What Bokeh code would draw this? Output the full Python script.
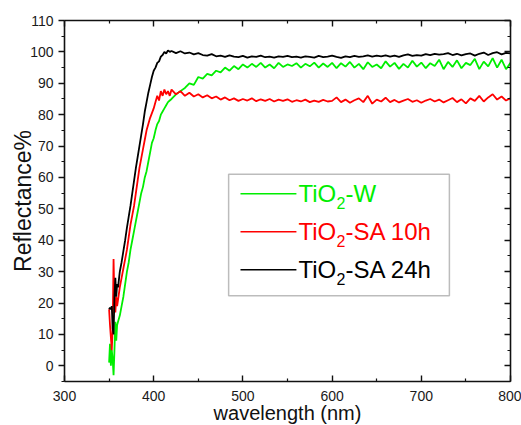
from bokeh.plotting import figure
from bokeh.models import (Range1d, LinearAxis, BoxAnnotation, ColumnDataSource,
                          FixedTicker, CustomJSTickFormatter)
from bokeh.core.properties import value
from bokeh.embed import file_html
from bokeh.resources import INLINE

# ---------------- data ----------------
wl_rise = [350, 351, 352, 353, 354, 355, 356, 357, 358, 359, 360, 362, 364, 366, 368,
           370, 372, 374, 376, 378, 380, 382, 384, 386, 388, 390, 392, 394, 396, 398,
           400, 402, 404, 406, 408, 410, 412, 414, 416, 418, 420]
wl_flat = list(range(425, 801, 5))

black_rise = [18, 18.5, 18, 19, 12, 10, 22, 28, 22, 26, 25, 30, 33, 36.5, 40,
              44, 47.5, 51, 55, 59, 63, 66.5, 70, 73.5, 77, 81, 84, 87, 89.5, 92,
              94, 95, 96.5, 97, 98.5, 99, 100, 99.5, 100.5, 100, 100.3]
black_flat = [99.6, 100.2, 99.5, 99.8, 99.2, 99.6, 99.0, 98.8, 99.3, 98.6,
              98.8, 98.4, 98.9, 98.5, 98.3, 98.7, 98.2, 98.6, 98.4, 98.8,
              98.3, 98.5, 98.2, 98.6, 98.4, 98.7, 98.3, 98.5, 98.2, 98.6,
              98.4, 98.2, 98.7, 98.3, 98.5, 98.8, 98.4, 98.1, 98.6, 98.3,
              98.7, 98.4, 98.6, 98.9, 98.5, 98.8, 98.6, 98.9, 98.5, 98.8,
              98.4, 98.9, 99.2, 98.7, 99.0, 98.8, 99.3, 99.0, 99.4, 99.1,
              99.3, 99.6, 99.0, 99.4, 98.9, 99.3, 99.5, 98.8, 99.4, 99.8,
              99.0, 99.6, 99.9, 99.2, 99.7, 99.5]

red_rise = [18, 13, 9, 5, 12, 34, 20, 17, 22, 19, 21, 25, 28, 31, 34,
            37, 41, 45, 48, 51, 55, 59, 63, 66, 69, 72, 75, 77, 79, 80.5,
            82, 84, 86, 84.5, 87.5, 86, 88, 86.5, 87.5, 86, 88]
red_flat = [86.5, 87.5, 86.0, 87.0, 85.8, 86.5, 85.5, 86.2, 85.2, 85.8,
            84.8, 85.5, 84.6, 85.2, 84.4, 85.0, 84.5, 85.2, 84.3, 84.9,
            84.4, 85.0, 84.2, 84.8, 84.4, 84.9, 84.1, 84.6, 84.2, 84.8,
            84.0, 84.5, 84.1, 84.7, 84.2, 84.4, 85.5, 84.0, 84.8, 83.8,
            84.6, 85.2, 84.0, 86.0, 83.5, 84.8, 84.2, 85.4, 84.0, 84.7,
            83.9, 84.5, 85.0, 84.1, 84.6, 83.8, 84.5, 85.0, 84.2, 84.8,
            83.9, 84.6, 85.3, 84.0, 84.9, 83.6, 85.2, 84.4, 86.0, 84.2,
            85.5, 86.5, 84.8, 85.8, 84.5, 85.2]

green_rise = [1, 7, 0, 5, 2, -3, 5, 14, 8, 13, 14, 16, 19, 22, 26,
              30, 33, 37, 40, 43, 46, 49, 52, 55, 57, 60, 62, 65, 68, 71,
              72.5, 75, 77, 78, 80, 81, 82, 83, 84, 84.5, 85]
green_flat = [86.5, 87.5, 88.5, 90.0, 89.5, 92.0, 91.5, 93.0, 92.5, 94.0,
              93.5, 95.0, 94.0, 95.5, 94.5, 96.0, 95.0, 96.2, 95.2, 96.5,
              95.0, 96.0, 94.8, 96.5, 95.2, 96.0, 95.5, 96.4, 95.0, 96.2,
              95.4, 96.6, 95.0, 96.3, 95.2, 96.5, 94.8, 96.4, 95.3, 96.8,
              95.0, 96.2, 94.5, 96.7, 95.2, 96.0, 94.8, 97.0, 95.3, 96.5,
              94.6, 96.2, 95.0, 97.2, 95.3, 96.6, 94.8, 96.4, 95.5, 97.5,
              94.5, 96.8, 95.2, 97.3, 94.8, 96.5, 95.8, 97.8, 94.5, 96.9,
              95.4, 98.0, 95.0, 97.5, 94.5, 96.5]

wavelength = wl_rise + wl_flat
series_names = ["TiO2-W", "TiO2-SA 10h", "TiO2-SA 24h"]
series_values = [green_rise + green_flat, red_rise + red_flat, black_rise + black_flat]
series_colors = ["#00ee00", "#ff0000", "#000000"]

x_ticks = [300, 400, 500, 600, 700, 800]
x_minor = [350, 450, 550, 650, 750]
y_ticks = [0, 10, 20, 30, 40, 50, 60, 70, 80, 90, 100, 110]
y_minor = [-5, 5, 15, 25, 35, 45, 55, 65, 75, 85, 95, 105]

FONT = "Liberation Sans"

p = figure(frame_width=446, frame_height=361, output_backend="svg", toolbar_location=None,
           x_range=Range1d(300, 800), y_range=Range1d(-5, 110),
           min_border_left=64, min_border_right=11, min_border_top=20, min_border_bottom=44)
p.grid.visible = False
p.outline_line_color = None
p.background_fill_color = "white"
p.border_fill_color = "white"

for vals, col in zip(series_values, series_colors):
    src = ColumnDataSource(dict(x=wavelength, y=vals))
    p.line("x", "y", source=src, line_color=col, line_width=1.8)


def style(ax):
    ax.axis_line_width = 1.6
    ax.axis_line_color = "#111111"
    ax.major_tick_line_color = "#111111"
    ax.minor_tick_line_color = "#111111"
    ax.major_tick_line_width = 1.4
    ax.minor_tick_line_width = 1.2
    ax.major_label_text_font = FONT
    ax.major_label_text_font_size = "14px"
    ax.major_label_text_color = "#1a1a1a"
    ax.axis_label_text_font = FONT
    ax.axis_label_text_font_style = "normal"
    ax.axis_label_text_color = "#111111"


xa = p.xaxis[0]
xa.ticker = FixedTicker(ticks=x_ticks, minor_ticks=x_minor)
style(xa)
xa.major_tick_in = 6
xa.major_tick_out = 0
xa.minor_tick_in = 3
xa.minor_tick_out = 0
xa.major_label_standoff = 9
xa.axis_label = "wavelength (nm)"
xa.axis_label_text_font_size = "20px"
xa.axis_label_standoff = -2

ya = p.yaxis[0]
ya.ticker = FixedTicker(ticks=y_ticks, minor_ticks=y_minor)
style(ya)
ya.major_tick_in = 0
ya.major_tick_out = 6
ya.minor_tick_in = 0
ya.minor_tick_out = 3
ya.major_label_standoff = 5
ya.axis_label = "Reflectance%"
ya.axis_label_text_font_size = "23px"
ya.axis_label_standoff = -9

blank = CustomJSTickFormatter(code="return ''")

top = LinearAxis(ticker=FixedTicker(ticks=x_ticks, minor_ticks=x_minor), formatter=blank)
style(top)
top.major_tick_in = 6
top.major_tick_out = 0
top.minor_tick_in = 3
top.minor_tick_out = 0
top.major_label_standoff = 0
p.add_layout(top, "above")

right = LinearAxis(ticker=FixedTicker(ticks=y_ticks, minor_ticks=y_minor), formatter=blank)
style(right)
right.major_tick_in = 6
right.major_tick_out = 0
right.minor_tick_in = 3
right.minor_tick_out = 0
right.major_label_standoff = 0
p.add_layout(right, "right")

# manual legend (box, line samples, text with subscript)
p.add_layout(BoxAnnotation(left=484, right=731.5, top=61, bottom=22.3,
                           fill_color="white", fill_alpha=1.0,
                           line_color="#222222", line_width=1.5, level="underlay"))
leg_y = [54.8, 42.7, 30.6]
leg_tail = ["-W", "-SA 10h", "-SA 24h"]
for col, yy, tail in zip(series_colors, leg_y, leg_tail):
    p.line([497.3, 560], [yy, yy], line_color=col, line_width=1.6)
    p.text(x=[562.3], y=[yy], text=["TiO"], text_color=col, text_font=value(FONT),
           text_font_size="24px", text_baseline="middle")
    p.text(x=[562.3], y=[yy], text=["2"], text_color=col, text_font=value(FONT),
           text_font_size="16px", text_baseline="middle", x_offset=38, y_offset=9)
    p.text(x=[562.3], y=[yy], text=[tail], text_color=col, text_font=value(FONT),
           text_font_size="24px", text_baseline="middle", x_offset=47)

open("out.html", "w").write(file_html(p, INLINE))
